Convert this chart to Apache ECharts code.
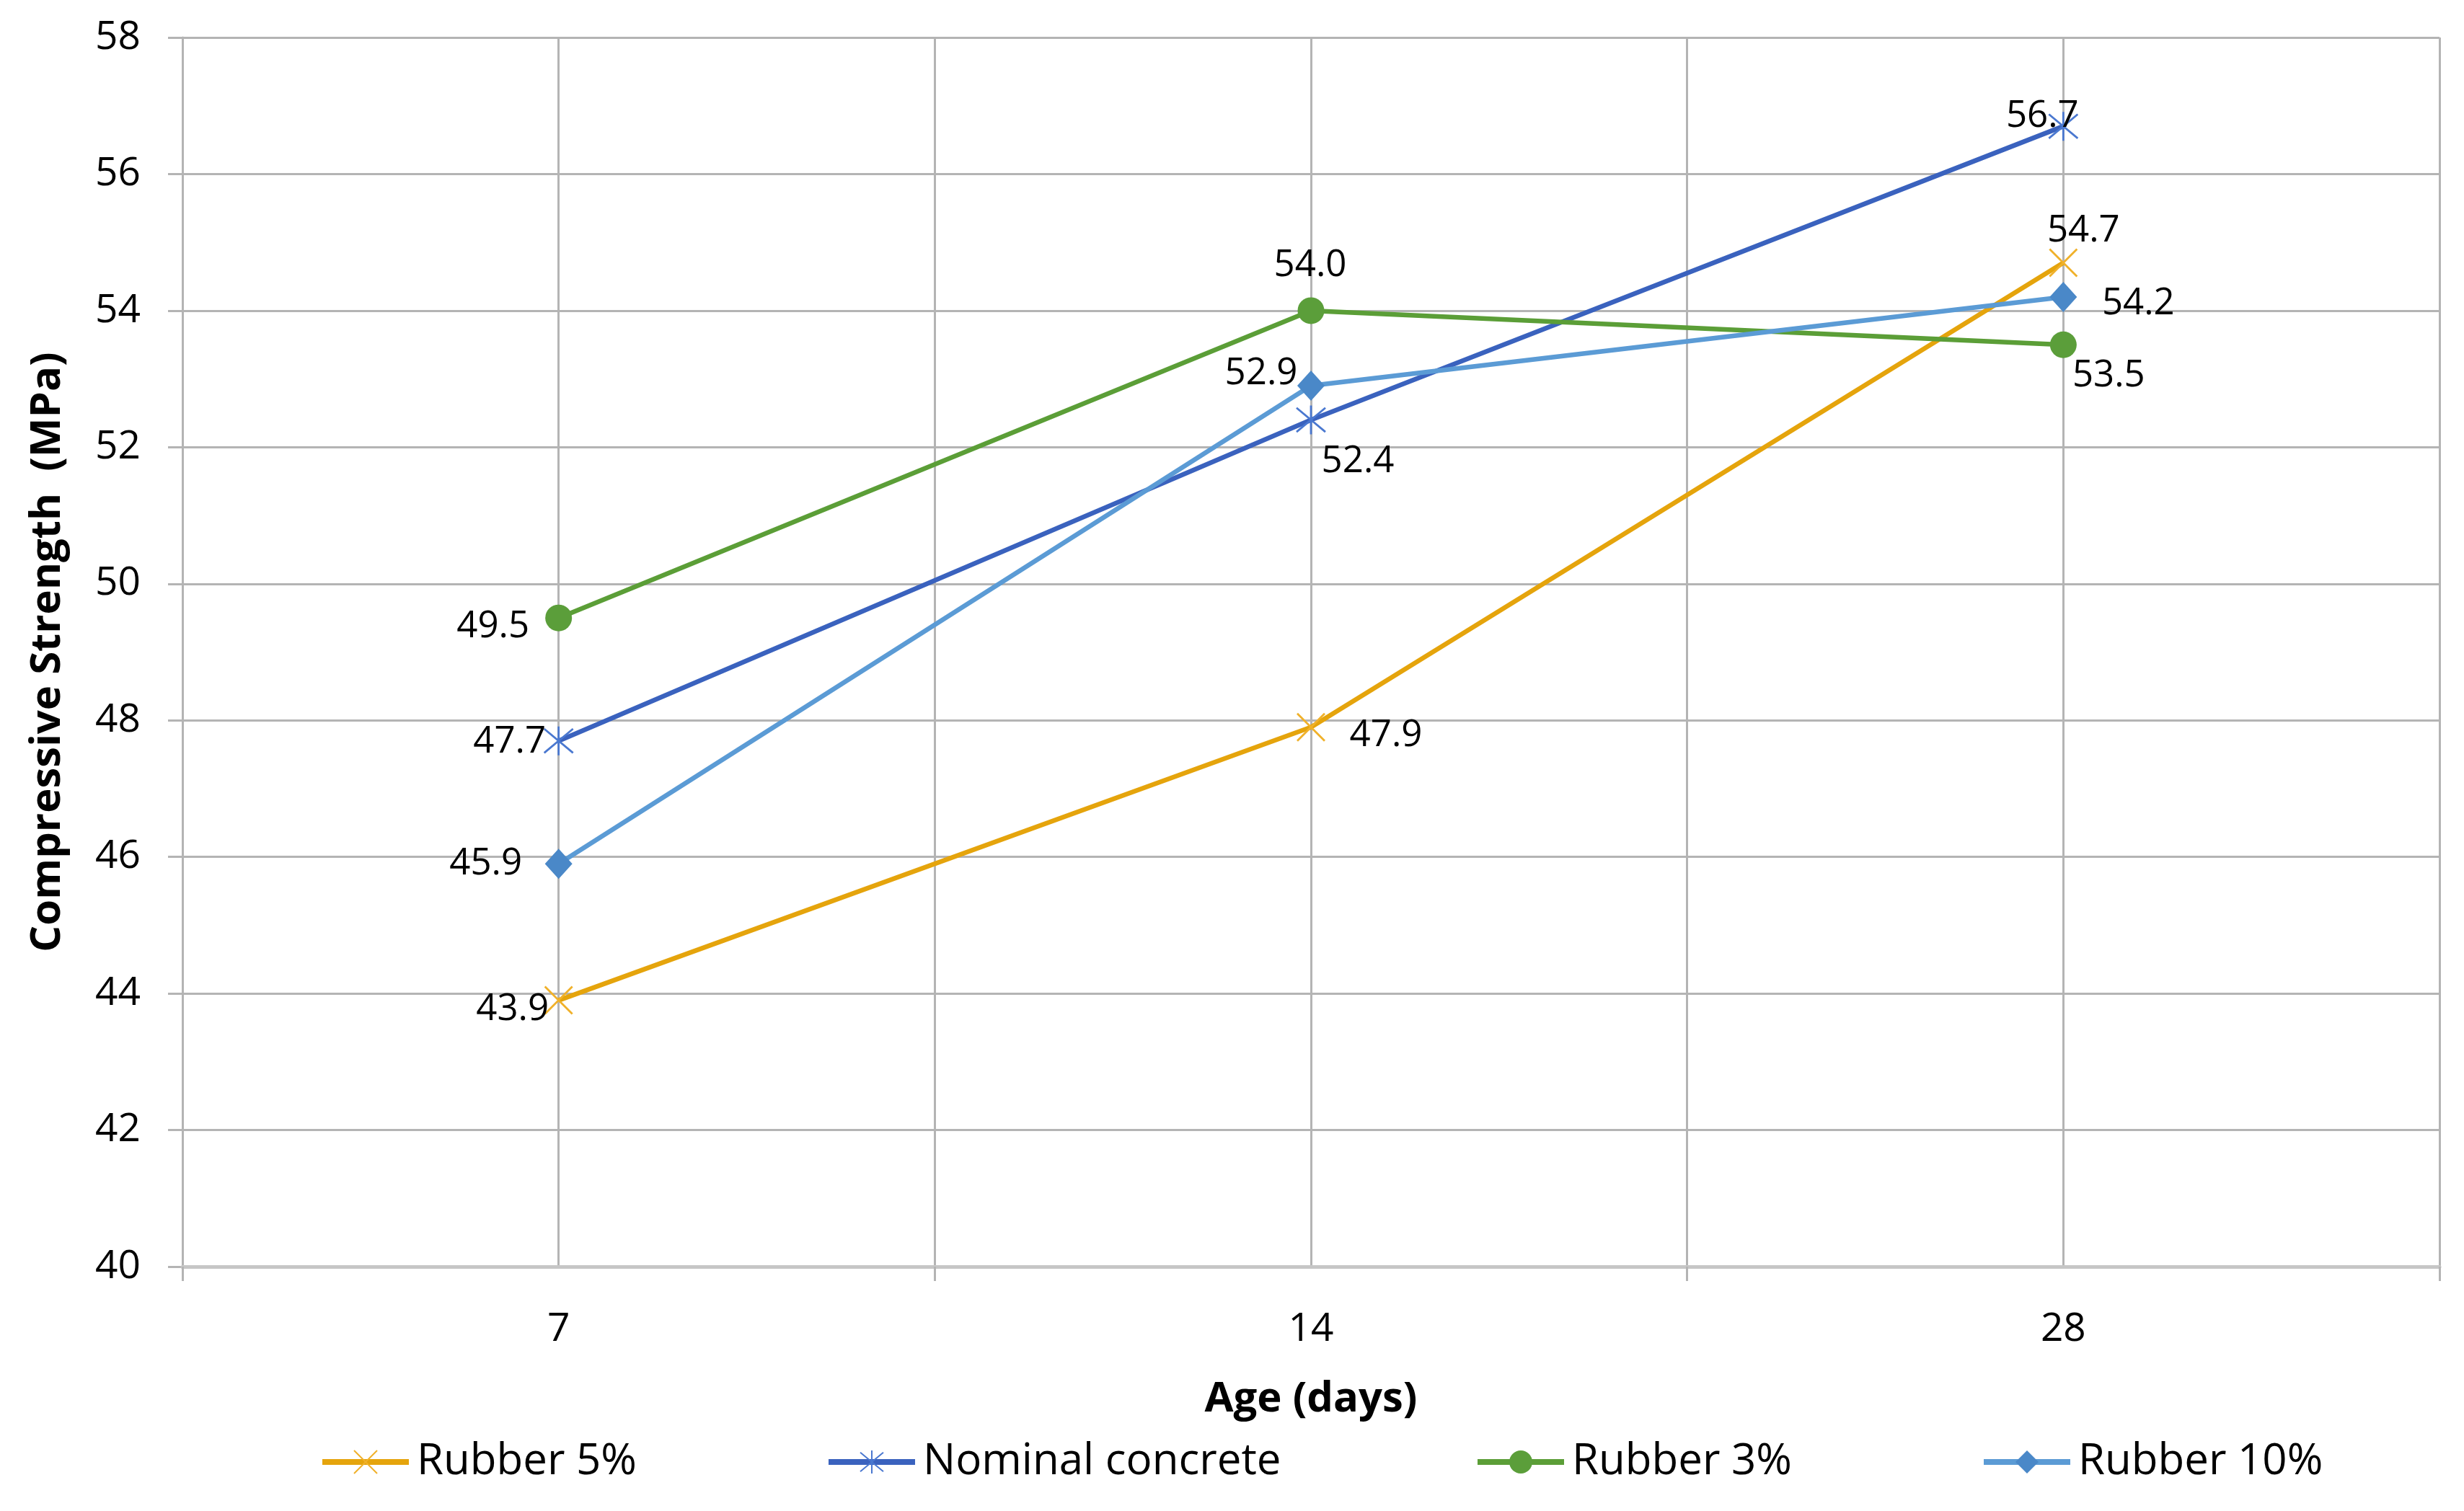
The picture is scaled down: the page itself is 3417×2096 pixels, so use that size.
<!DOCTYPE html>
<html>
<head>
<meta charset="utf-8">
<script src="https://cdn.jsdelivr.net/npm/echarts@6/dist/echarts.min.js"></script>
<style>
html,body{margin:0;padding:0;background:#fff;}
#chart{width:3417px;height:2096px;}
</style>
</head>
<body>
<div id="chart"></div>
<script>
// ---- data ----
const ages = ['7', '14', '28'];
const seriesNames = ['Rubber 5%', 'Nominal concrete', 'Rubber 3%', 'Rubber 10%'];
const rubber5 = [43.9, 47.9, 54.7];
const nominal = [47.7, 52.4, 56.7];
const rubber3 = [49.5, 54.0, 53.5];
const rubber10 = [45.9, 52.9, 54.2];
const yTicks = { min: 40, max: 58, step: 2 };
const xTitle = 'Age (days)';
const yTitle = 'Compressive Strength  (MPa)';

// ---- styling (kept separate from data) ----
const FONT = '"Open Sans", "Liberation Sans", sans-serif';
const xPath = 'path://M0,0L10,10M10,0L0,10';
const starPath = 'path://M0,0L10,10M10,0L0,10M5,-1L5,11';
const styles = [
  { line: '#E5A40C', mark: '#F0B12A', symbol: xPath, size: 38, stroke: 2.8 },
  { line: '#3A62BE', mark: '#4A78D0', symbol: starPath, size: 40, stroke: 2.8 },
  { line: '#5B9E37', mark: '#5B9E3A', symbol: 'circle', size: 37, stroke: 0 },
  { line: '#5B9BD5', mark: '#4A88C8', symbol: 'diamond', size: [38, 42], stroke: 0 }
];
// label centre offsets relative to each point, px
const labelOffsets = [
  [[-64, 13], [104, 12], [28, -44]],
  [[-68, 2], [65, 58], [-29, -14]],
  [[-91, 12], [-1, -62], [63, 43]],
  [[-101, 0], [-69, -17], [104, 10]]
];
const legendLeft = [443, 1145, 2045, 2747];

const values = [rubber5, nominal, rubber3, rubber10];

const series = seriesNames.map((name, si) => {
  const st = styles[si];
  return {
    name: name,
    type: 'line',
    xAxisIndex: 0,
    yAxisIndex: 0,
    data: values[si].map((v, i) => ({
      value: v,
      label: { offset: labelOffsets[si][i] }
    })),
    symbol: st.symbol,
    symbolSize: st.size,
    symbolKeepAspect: false,
    showAllSymbol: true,
    lineStyle: { color: st.line, width: 6.5 },
    itemStyle: {
      color: st.mark,
      borderColor: st.mark,
      borderWidth: st.stroke
    },
    label: {
      show: true,
      position: 'inside',
      color: '#000',
      fontFamily: FONT,
      fontSize: 51,
      formatter: p => Number(p.value).toFixed(1)
    },
    emphasis: { disabled: true },
    z: 3 + si
  };
});

const legends = seriesNames.map((name, i) => ({
  data: [name],
  left: legendLeft[i],
  top: 1998,
  padding: 0,
  itemWidth: 120,
  itemHeight: 40,
  itemGap: 0,
  lineStyle: { width: 8 },
  textStyle: { fontFamily: FONT, fontSize: 60, color: '#000', padding: [0, 0, 0, 6] }
}));

const gridColor = '#b4b4b4';

const option = {
  backgroundColor: '#ffffff',
  animation: false,
  textStyle: { fontFamily: FONT },
  legend: legends,
  grid: { left: 253, right: 34, top: 52, bottom: 339, containLabel: false },
  xAxis: [
    {
      type: 'category',
      data: ages,
      boundaryGap: true,
      position: 'bottom',
      axisLine: { show: true, lineStyle: { color: '#c6c6c6', width: 5 } },
      axisTick: { show: true, length: 20, lineStyle: { color: gridColor, width: 3 } },
      axisLabel: { color: '#000', fontFamily: FONT, fontSize: 55, margin: 60 },
      splitLine: { show: false },
      name: xTitle,
      nameLocation: 'middle',
      nameGap: 155,
      nameTextStyle: { color: '#000', fontFamily: FONT, fontSize: 58, fontWeight: 'bold' },
      z: 1
    },
    {
      // gridline-only helper: one line at every half category step
      type: 'value',
      min: 0,
      max: ages.length * 2,
      interval: 1,
      position: 'top',
      axisLine: { show: false },
      axisTick: { show: false },
      axisLabel: { show: false },
      splitLine: { show: true, lineStyle: { color: gridColor, width: 3 } }
    }
  ],
  yAxis: {
    type: 'value',
    min: yTicks.min,
    max: yTicks.max,
    interval: yTicks.step,
    axisLine: { show: true, lineStyle: { color: gridColor, width: 3 } },
    axisTick: { show: true, length: 20, lineStyle: { color: gridColor, width: 3 } },
    axisLabel: { color: '#000', fontFamily: FONT, fontSize: 55, margin: 58 },
    splitLine: { show: true, lineStyle: { color: gridColor, width: 3 } },
    name: yTitle,
    nameLocation: 'middle',
    nameRotate: 90,
    nameGap: 158,
    nameTextStyle: { color: '#000', fontFamily: FONT, fontSize: 58, fontWeight: 'bold' }
  },
  series: series
};

const chart = echarts.init(document.getElementById('chart'), null, { renderer: 'canvas' });
chart.setOption(option);
</script>
</body>
</html>
